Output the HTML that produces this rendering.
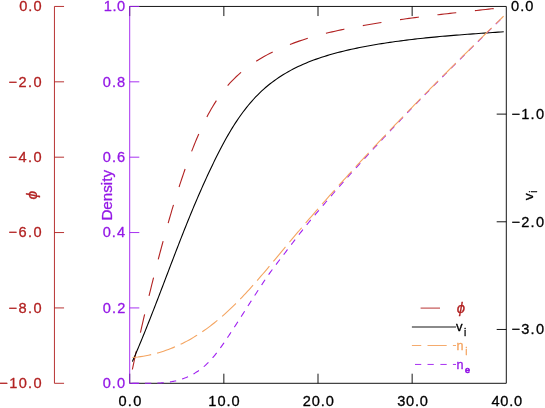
<!DOCTYPE html>
<html><head><meta charset="utf-8"><title>plot</title>
<style>html,body{margin:0;padding:0;background:#fff;overflow:hidden}body{width:545px;height:408px;font-family:"Liberation Sans",sans-serif}</style></head>
<body>
<svg width="545" height="408" viewBox="0 0 545 408" style="display:block;will-change:transform">
<rect width="545" height="408" fill="#fff"/>
<g fill="none" stroke-width="0.92" stroke-linecap="butt">
<path d="M129.7,6.45H506.3V383.3H129.7" stroke="#000"/>
<path d="M129.70,6.45v9.6M129.70,383.3v-9.6M223.85,6.45v9.6M223.85,383.3v-9.6M318.00,6.45v9.6M318.00,383.3v-9.6M412.15,6.45v9.6M412.15,383.3v-9.6" stroke="#000"/>
<path d="M506.3,114.12h-9.6M506.3,221.79h-9.6M506.3,329.46h-9.6" stroke="#000"/>
<path d="M139.29999999999998,6.45H129.7V383.3h9.6M129.7,81.82h9.6M129.7,157.19h9.6M129.7,232.56h9.6M129.7,307.93h9.6" stroke="#a020f0"/>
<path d="M64.05,6.45H54.45V383.3h9.6M54.45,81.82h9.6M54.45,157.19h9.6M54.45,232.56h9.6M54.45,307.93h9.6" stroke="#b22222"/>
<path stroke-width="1.1" d="M132.35,369.50L132.97,366.58L133.60,363.66L134.22,360.75L134.85,357.83L135.49,354.91L136.12,351.99L136.76,349.07L137.40,346.15L138.05,343.23L138.70,340.31L139.35,337.39L140.01,334.47L140.67,331.55L141.33,328.63L142.00,325.71L142.67,322.80L143.34,319.88L144.02,316.96L144.70,314.05L145.39,311.13L146.07,308.22L146.77,305.31L147.46,302.39L148.16,299.48L148.86,296.57L149.57,293.67L150.28,290.76L151.00,287.85L151.72,284.95L152.44,282.05L153.17,279.15L153.90,276.25L154.63,273.35L155.37,270.45L156.12,267.56L156.86,264.67L157.61,261.78L158.37,258.89L159.13,256.01L159.89,253.12L160.66,250.24L161.44,247.37L162.21,244.49L163.00,241.62L163.78,238.75L164.57,235.88L165.37,233.02L166.17,230.15L166.97,227.29L167.78,224.44L168.59,221.59L169.41,218.74L170.24,215.89L171.07,213.05L171.90,210.20L172.75,207.36L173.60,204.53L174.46,201.69L175.32,198.86L176.20,196.02L177.09,193.19L177.99,190.36L178.89,187.53L179.81,184.70L180.74,181.87L181.69,179.04L182.64,176.21L183.61,173.37L184.59,170.54L185.59,167.71L186.61,164.87L187.63,162.04L188.68,159.20L189.74,156.36L190.82,153.52L191.91,150.67L193.03,147.83L194.16,144.98L195.32,142.14L196.50,139.30L197.70,136.47L198.92,133.65L200.17,130.84L201.45,128.04L202.75,125.26L204.08,122.50L205.45,119.76L206.84,117.04L208.27,114.35L209.72,111.68L211.22,109.05L212.75,106.45L214.32,103.88L215.92,101.35L217.57,98.85L219.25,96.40L220.98,93.99L222.75,91.63L224.56,89.31L226.42,87.05L228.32,84.84L230.27,82.68L232.27,80.57L234.31,78.52L236.40,76.52L238.53,74.57L240.70,72.67L242.91,70.83L245.16,69.03L247.45,67.27L249.78,65.57L252.15,63.91L254.55,62.29L256.98,60.72L259.45,59.19L261.95,57.71L264.49,56.26L267.05,54.86L269.65,53.50L272.27,52.17L274.92,50.89L277.59,49.64L280.29,48.43L283.02,47.25L285.77,46.11L288.54,45.00L291.33,43.93L294.14,42.88L296.97,41.87L299.82,40.89L302.68,39.94L305.56,39.02L308.46,38.12L311.37,37.25L314.29,36.41L317.22,35.59L320.16,34.80L323.12,34.03L326.08,33.28L329.05,32.56L332.03,31.85L335.01,31.17L337.99,30.50L340.98,29.86L343.97,29.23L346.96,28.62L349.96,28.02L352.95,27.44L355.94,26.87L358.92,26.31L361.90,25.77L364.88,25.24L367.85,24.72L370.82,24.21L373.78,23.71L376.74,23.22L379.69,22.74L382.64,22.26L385.58,21.80L388.53,21.35L391.46,20.90L394.40,20.47L397.33,20.04L400.27,19.62L403.19,19.21L406.12,18.80L409.05,18.40L411.97,18.01L414.90,17.62L417.82,17.24L420.75,16.87L423.67,16.50L426.60,16.13L429.52,15.77L432.45,15.42L435.38,15.07L438.31,14.72L441.24,14.38L444.17,14.04L447.11,13.70L450.05,13.36L452.99,13.03L455.93,12.70L458.88,12.38L461.84,12.05L464.79,11.72L467.75,11.40L470.72,11.08L473.69,10.76L476.67,10.43L479.65,10.11L482.64,9.79L485.63,9.47L488.64,9.14L491.64,8.82L494.66,8.49L497.68,8.16L500.71,7.83L503.75,7.50" stroke="#b22222" stroke-dasharray="18.9 18.8"/>
<path stroke-width="1.1" d="M132.35,361.60L133.47,359.02L134.59,356.45L135.69,353.87L136.79,351.28L137.88,348.70L138.97,346.12L140.04,343.53L141.12,340.95L142.18,338.36L143.24,335.77L144.29,333.18L145.34,330.59L146.38,328.00L147.42,325.40L148.45,322.81L149.48,320.21L150.51,317.62L151.52,315.02L152.54,312.42L153.55,309.83L154.56,307.23L155.57,304.63L156.57,302.03L157.57,299.43L158.57,296.83L159.57,294.23L160.56,291.63L161.56,289.03L162.55,286.43L163.54,283.83L164.53,281.23L165.52,278.63L166.51,276.03L167.50,273.43L168.49,270.83L169.48,268.23L170.47,265.63L171.46,263.03L172.46,260.43L173.45,257.83L174.45,255.23L175.45,252.64L176.45,250.04L177.45,247.45L178.46,244.85L179.47,242.26L180.48,239.67L181.49,237.08L182.51,234.49L183.54,231.90L184.56,229.31L185.60,226.72L186.63,224.14L187.68,221.55L188.72,218.97L189.78,216.39L190.84,213.81L191.90,211.23L192.97,208.65L194.05,206.08L195.13,203.51L196.22,200.94L197.32,198.37L198.43,195.80L199.54,193.23L200.66,190.67L201.79,188.11L202.93,185.55L204.08,182.99L205.24,180.44L206.40,177.89L207.58,175.34L208.76,172.79L209.96,170.24L211.16,167.70L212.38,165.16L213.60,162.63L214.84,160.09L216.09,157.56L217.35,155.03L218.63,152.51L219.92,150.00L221.22,147.49L222.54,145.00L223.88,142.51L225.23,140.04L226.61,137.58L228.00,135.14L229.42,132.71L230.86,130.29L232.32,127.90L233.80,125.53L235.31,123.17L236.84,120.84L238.40,118.53L239.99,116.25L241.60,113.99L243.24,111.75L244.92,109.55L246.62,107.38L248.36,105.23L250.13,103.12L251.93,101.04L253.77,99.00L255.64,96.99L257.55,95.01L259.49,93.08L261.48,91.18L263.50,89.33L265.57,87.52L267.67,85.75L269.81,84.02L272.00,82.34L274.22,80.69L276.47,79.10L278.76,77.54L281.09,76.02L283.44,74.55L285.83,73.12L288.24,71.73L290.68,70.38L293.15,69.08L295.64,67.81L298.15,66.59L300.69,65.40L303.24,64.26L305.81,63.15L308.41,62.09L311.01,61.06L313.64,60.06L316.27,59.11L318.93,58.18L321.59,57.29L324.27,56.43L326.95,55.60L329.65,54.80L332.35,54.03L335.06,53.28L337.78,52.56L340.50,51.86L343.23,51.18L345.96,50.53L348.70,49.90L351.43,49.28L354.17,48.69L356.91,48.11L359.65,47.55L362.39,47.00L365.13,46.48L367.88,45.97L370.62,45.47L373.37,44.99L376.12,44.52L378.87,44.06L381.63,43.62L384.38,43.19L387.13,42.77L389.89,42.36L392.65,41.96L395.41,41.57L398.16,41.19L400.92,40.83L403.69,40.47L406.45,40.12L409.21,39.78L411.98,39.45L414.74,39.13L417.51,38.81L420.28,38.51L423.05,38.21L425.82,37.92L428.59,37.64L431.36,37.36L434.13,37.09L436.91,36.83L439.68,36.57L442.46,36.32L445.23,36.08L448.01,35.84L450.79,35.61L453.57,35.38L456.35,35.15L459.13,34.93L461.91,34.72L464.70,34.51L467.48,34.30L470.27,34.09L473.05,33.89L475.84,33.69L478.63,33.50L481.42,33.30L484.20,33.11L486.99,32.92L489.79,32.73L492.58,32.54L495.37,32.36L498.16,32.17L500.96,31.99L503.75,31.80" stroke="#000"/>
<path stroke-width="1.1" d="M132.35,383.40L133.24,383.38L134.12,383.36L135.01,383.35L135.89,383.34L136.78,383.33L137.67,383.32L138.55,383.31L139.44,383.31L140.32,383.31L141.21,383.31L142.10,383.30L142.98,383.30L143.87,383.30L144.75,383.30L145.64,383.30L146.53,383.30L147.41,383.30L148.30,383.29L149.18,383.29L150.07,383.28L150.96,383.27L151.84,383.26L152.73,383.24L153.61,383.22L154.50,383.20L155.39,383.18L156.27,383.15L157.16,383.11L158.05,383.07L158.93,383.03L159.82,382.98L160.70,382.93L161.59,382.87L162.48,382.80L163.36,382.73L164.25,382.65L165.13,382.56L166.02,382.47L166.91,382.37L167.79,382.26L168.68,382.14L169.56,382.01L170.45,381.87L171.34,381.73L172.22,381.57L173.11,381.40L173.99,381.23L174.88,381.04L175.77,380.84L176.65,380.62L177.54,380.40L178.42,380.16L179.31,379.91L180.20,379.64L181.08,379.36L181.97,379.07L182.85,378.76L183.74,378.44L184.63,378.11L185.51,377.76L186.40,377.40L187.28,377.02L188.17,376.62L189.06,376.21L189.94,375.79L190.83,375.35L191.71,374.89L192.60,374.41L193.49,373.92L194.37,373.41L195.26,372.88L196.14,372.33L197.03,371.76L197.92,371.17L198.80,370.56L199.69,369.92L200.57,369.27L201.46,368.58L202.35,367.88L203.23,367.15L204.12,366.39L205.01,365.61L205.89,364.80L206.78,363.97L207.66,363.11L208.55,362.23L209.44,361.32L210.32,360.38L211.21,359.41L212.09,358.42L212.98,357.40L213.87,356.36L214.75,355.29L215.64,354.20L216.52,353.08L217.41,351.93L218.30,350.77L219.18,349.58L220.07,348.37L220.95,347.14L221.84,345.89L222.73,344.62L223.61,343.34L224.50,342.04L225.38,340.74L226.27,339.42L227.16,338.10L228.04,336.77L228.93,335.43L229.81,334.09L230.70,332.75L231.59,331.40L232.47,330.05L233.36,328.69L234.24,327.33L235.13,325.96L236.02,324.60L236.90,323.23L237.79,321.85L238.67,320.48L239.56,319.10L240.45,317.72L241.33,316.34L242.22,314.96L243.10,313.58L243.99,312.20L244.88,310.81L245.76,309.43L246.65,308.04L247.53,306.66L248.42,305.28L249.31,303.90L250.19,302.52L251.08,301.14L251.97,299.77L252.85,298.39L253.74,297.02L254.62,295.65L255.51,294.29L256.40,292.93L257.28,291.57L258.17,290.22L259.05,288.87L259.94,287.52L260.83,286.18L261.71,284.84L262.60,283.47L263.48,282.09L264.37,280.74L265.26,279.41L266.14,278.11L267.03,276.83L267.91,275.58L268.80,274.35L269.69,273.14L270.57,271.92L271.46,270.71L272.34,269.50L273.23,268.30L274.12,267.11L275.00,265.92L275.89,264.75L276.77,263.58L277.66,262.41L278.55,261.25L279.43,260.09L280.32,258.94L281.20,257.79L282.09,256.65L282.98,255.50L283.86,254.36L284.75,253.22L285.63,252.05L286.52,250.88L287.41,249.70L288.29,248.53L289.18,247.36L290.06,246.19L290.95,245.03L291.84,243.87L292.72,242.71L293.61,241.56L294.49,240.40L295.38,239.25L296.27,238.10L297.15,236.95L298.04,235.80L298.93,234.66L299.81,233.51L300.70,232.39L301.58,231.29L302.47,230.18L303.36,229.07L304.24,227.97L305.13,226.87L306.01,225.77L306.90,224.67L307.79,223.57L308.67,222.47L309.56,221.38L310.44,220.30L311.33,219.24L312.22,218.19L313.10,217.13L313.99,216.08L314.87,215.03L315.76,213.98L316.65,212.93L317.53,211.88L318.42,210.83L319.30,209.78L320.19,208.74L321.08,207.70L321.96,206.65L322.85,205.61L323.73,204.57L324.62,203.53L325.51,202.50L326.39,201.46L327.28,200.42L328.16,199.39L329.05,198.36L329.94,197.33L330.82,196.30L331.71,195.28L332.59,194.26L333.48,193.25L334.37,192.23L335.25,191.21L336.14,190.20L337.02,189.18L337.91,188.17L338.80,187.16L339.68,186.15L340.57,185.14L341.46,184.14L342.34,183.14L343.23,182.14L344.11,181.13L345.00,180.14L345.89,179.14L346.77,178.14L347.66,177.14L348.54,176.15L349.43,175.15L350.32,174.16L351.20,173.18L352.09,172.20L352.97,171.21L353.86,170.23L354.75,169.25L355.63,168.27L356.52,167.30L357.40,166.32L358.29,165.34L359.18,164.37L360.06,163.39L360.95,162.42L361.83,161.45L362.72,160.48L363.61,159.51L364.49,158.54L365.38,157.57L366.26,156.60L367.15,155.64L368.04,154.67L368.92,153.71L369.81,152.74L370.69,151.78L371.58,150.82L372.47,149.86L373.35,148.90L374.24,147.94L375.12,146.99L376.01,146.03L376.90,145.08L377.78,144.12L378.67,143.17L379.55,142.22L380.44,141.27L381.33,140.32L382.21,139.37L383.10,138.42L383.98,137.47L384.87,136.53L385.76,135.58L386.64,134.63L387.53,133.69L388.42,132.75L389.30,131.80L390.19,130.86L391.07,129.92L391.96,128.98L392.85,128.05L393.73,127.11L394.62,126.17L395.50,125.24L396.39,124.30L397.28,123.37L398.16,122.43L399.05,121.50L399.93,120.57L400.82,119.64L401.71,118.71L402.59,117.78L403.48,116.85L404.36,115.92L405.25,114.99L406.14,114.06L407.02,113.14L407.91,112.21L408.79,111.29L409.68,110.36L410.57,109.45L411.45,108.53L412.34,107.62L413.22,106.70L414.11,105.79L415.00,104.88L415.88,103.96L416.77,103.05L417.65,102.14L418.54,101.23L419.43,100.32L420.31,99.41L421.20,98.51L422.08,97.60L422.97,96.69L423.86,95.79L424.74,94.88L425.63,93.98L426.51,93.07L427.40,92.17L428.29,91.27L429.17,90.36L430.06,89.46L430.94,88.56L431.83,87.66L432.72,86.76L433.60,85.86L434.49,84.96L435.38,84.06L436.26,83.17L437.15,82.27L438.03,81.37L438.92,80.48L439.81,79.58L440.69,78.69L441.58,77.79L442.46,76.90L443.35,76.01L444.24,75.12L445.12,74.23L446.01,73.33L446.89,72.44L447.78,71.55L448.67,70.67L449.55,69.78L450.44,68.89L451.32,68.00L452.21,67.11L453.10,66.23L453.98,65.34L454.87,64.46L455.75,63.57L456.64,62.69L457.53,61.80L458.41,60.92L459.30,60.04L460.18,59.15L461.07,58.27L461.96,57.39L462.84,56.51L463.73,55.63L464.61,54.75L465.50,53.87L466.39,52.99L467.27,52.11L468.16,51.23L469.04,50.35L469.93,49.48L470.82,48.60L471.70,47.73L472.59,46.85L473.47,45.98L474.36,45.11L475.25,44.23L476.13,43.36L477.02,42.49L477.90,41.62L478.79,40.75L479.68,39.87L480.56,39.00L481.45,38.13L482.34,37.26L483.22,36.40L484.11,35.53L484.99,34.66L485.88,33.79L486.77,32.92L487.65,32.05L488.54,31.19L489.42,30.32L490.31,29.45L491.20,28.59L492.08,27.72L492.97,26.86L493.85,25.99L494.74,25.13L495.63,24.26L496.51,23.40L497.40,22.54L498.28,21.67L499.17,20.81L500.06,19.95L500.94,19.09L501.83,18.22L502.71,17.36L503.60,16.50" stroke="#a020f0" stroke-dasharray="6.4 6.14"/>
<path stroke-width="1.1" d="M132.50,357.50L135.23,357.24L137.93,356.94L140.61,356.58L143.26,356.17L145.89,355.71L148.49,355.20L151.06,354.64L153.61,354.04L156.14,353.39L158.65,352.70L161.13,351.96L163.58,351.18L166.01,350.35L168.42,349.48L170.81,348.57L173.18,347.62L175.52,346.63L177.84,345.60L180.14,344.54L182.41,343.43L184.67,342.29L186.91,341.12L189.12,339.91L191.31,338.67L193.49,337.39L195.64,336.08L197.78,334.74L199.89,333.37L201.99,331.97L204.07,330.54L206.13,329.08L208.17,327.59L210.19,326.08L212.20,324.54L214.18,322.98L216.15,321.40L218.11,319.79L220.05,318.16L221.97,316.50L223.87,314.83L225.76,313.13L227.64,311.42L229.50,309.69L231.35,307.93L233.18,306.17L235.01,304.38L236.82,302.58L238.61,300.76L240.40,298.92L242.18,297.07L243.94,295.21L245.70,293.34L247.44,291.45L249.18,289.55L250.91,287.64L252.63,285.72L254.35,283.79L256.05,281.84L257.75,279.90L259.45,277.94L261.14,275.97L262.82,274.00L264.50,272.03L266.18,270.04L267.85,268.06L269.52,266.07L271.18,264.07L272.84,262.08L274.51,260.08L276.17,258.08L277.83,256.08L279.49,254.08L281.15,252.08L282.81,250.08L284.47,248.08L286.13,246.09L287.80,244.10L289.46,242.11L291.13,240.13L292.80,238.15L294.48,236.17L296.15,234.19L297.83,232.22L299.51,230.25L301.19,228.28L302.87,226.31L304.55,224.35L306.24,222.39L307.92,220.43L309.61,218.48L311.30,216.53L313.00,214.58L314.69,212.63L316.39,210.69L318.09,208.75L319.79,206.81L321.49,204.87L323.19,202.94L324.90,201.00L326.60,199.08L328.31,197.15L330.02,195.22L331.74,193.30L333.45,191.38L335.17,189.47L336.89,187.55L338.60,185.64L340.33,183.73L342.05,181.82L343.77,179.91L345.50,178.01L347.23,176.11L348.96,174.21L350.69,172.31L352.42,170.41L354.16,168.52L355.89,166.63L357.63,164.74L359.37,162.85L361.11,160.97L362.86,159.08L364.60,157.20L366.35,155.32L368.10,153.44L369.85,151.57L371.60,149.69L373.35,147.82L375.11,145.95L376.86,144.08L378.62,142.21L380.38,140.35L382.14,138.48L383.91,136.62L385.67,134.76L387.44,132.90L389.21,131.04L390.98,129.19L392.75,127.33L394.52,125.48L396.29,123.63L398.07,121.78L399.85,119.93L401.63,118.08L403.41,116.24L405.19,114.39L406.97,112.55L408.76,110.71L410.54,108.87L412.33,107.03L414.12,105.19L415.91,103.36L417.71,101.52L419.50,99.69L421.30,97.86L423.09,96.02L424.89,94.19L426.69,92.36L428.50,90.53L430.30,88.71L432.10,86.88L433.91,85.06L435.72,83.23L437.53,81.41L439.34,79.58L441.15,77.76L442.96,75.94L444.78,74.12L446.60,72.30L448.41,70.49L450.23,68.67L452.05,66.85L453.88,65.04L455.70,63.22L457.53,61.41L459.35,59.59L461.18,57.78L463.01,55.97L464.84,54.15L466.67,52.34L468.51,50.53L470.34,48.72L472.18,46.91L474.01,45.10L475.85,43.29L477.69,41.48L479.54,39.68L481.38,37.87L483.22,36.06L485.07,34.26L486.92,32.45L488.77,30.64L490.62,28.84L492.47,27.03L494.32,25.23L496.17,23.42L498.03,21.61L499.88,19.81L501.74,18.00L503.60,16.20" stroke="#f4a460" stroke-dasharray="18.9 6.18"/>
<path d="M420.6,308.1H440" stroke="#b22222"/>
<path d="M411.9,327.0H456" stroke="#000"/>
<path d="M411.9,345.5H421.25M427.5,345.5H446.7M452.9,345.5H456" stroke="#f4a460"/>
<path d="M415,364.45H421.25M427.5,364.45H433.75M440.4,364.45H446.7M452.9,364.45H456" stroke="#a020f0"/>
</g>
<g font-family="Liberation Sans, sans-serif" font-size="14.6" stroke-width="0.3" stroke-linejoin="round">
<text x="19.23" y="11.30" fill="#b22222" stroke="#b22222" letter-spacing="1.02">0.0</text>
<text x="8.38" y="86.67" fill="#b22222" stroke="#b22222" letter-spacing="1.49">−2.0</text>
<text x="8.38" y="162.04" fill="#b22222" stroke="#b22222" letter-spacing="1.49">−4.0</text>
<text x="8.38" y="237.41" fill="#b22222" stroke="#b22222" letter-spacing="1.49">−6.0</text>
<text x="8.38" y="312.78" fill="#b22222" stroke="#b22222" letter-spacing="1.49">−8.0</text>
<text x="-0.72" y="388.15" fill="#b22222" stroke="#b22222" letter-spacing="1.36">−10.0</text>
<text x="103.79" y="11.30" fill="#9418e6" stroke="#9418e6" letter-spacing="0.54">1.0</text>
<text x="102.63" y="86.67" fill="#9418e6" stroke="#9418e6" letter-spacing="1.15">0.8</text>
<text x="102.63" y="162.04" fill="#9418e6" stroke="#9418e6" letter-spacing="1.16">0.6</text>
<text x="102.63" y="237.41" fill="#9418e6" stroke="#9418e6" letter-spacing="1.05">0.4</text>
<text x="102.63" y="312.78" fill="#9418e6" stroke="#9418e6" letter-spacing="1.20">0.2</text>
<text x="102.63" y="388.15" fill="#9418e6" stroke="#9418e6" letter-spacing="1.12">0.0</text>
<text x="511.03" y="11.30" fill="#000" stroke="#000" letter-spacing="1.02">0.0</text>
<text x="511.38" y="118.97" fill="#000" stroke="#000" letter-spacing="1.29">−1.0</text>
<text x="511.38" y="226.64" fill="#000" stroke="#000" letter-spacing="1.29">−2.0</text>
<text x="511.38" y="334.31" fill="#000" stroke="#000" letter-spacing="1.29">−3.0</text>
<text x="118.53" y="406.40" fill="#000" stroke="#000" letter-spacing="1.22">0.0</text>
<text x="208.34" y="406.40" fill="#000" stroke="#000" letter-spacing="0.96">10.0</text>
<text x="302.87" y="406.40" fill="#000" stroke="#000" letter-spacing="0.83">20.0</text>
<text x="397.19" y="406.40" fill="#000" stroke="#000" letter-spacing="0.77">30.0</text>
<text x="491.56" y="406.40" fill="#000" stroke="#000" letter-spacing="0.70">40.0</text>
<text transform="translate(111.8,220.6) rotate(-90)" fill="#9418e6" stroke="#9418e6" textLength="50.6" lengthAdjust="spacingAndGlyphs">Density</text>
<text transform="translate(37.2,199.5) rotate(-90) scale(1.04,0.93)" fill="#b22222" stroke="#b22222" font-style="italic" font-size="15">ϕ</text>
<text transform="translate(532.7,200.2) rotate(-90)" fill="#000" stroke="#000" font-size="12.6" textLength="7" lengthAdjust="spacingAndGlyphs">v</text>
<text transform="translate(537,192.8) rotate(-90)" fill="#000" stroke="#000" font-size="10">i</text>
<text x="456.7" y="313" fill="#b22222" stroke="#b22222" font-style="italic" font-size="15">ϕ</text>
<text x="456" y="330.7" fill="#000" stroke="#000" font-size="12.8" textLength="6.6" lengthAdjust="spacingAndGlyphs">v</text>
<text x="464" y="335.7" fill="#000" stroke="#000" font-size="10">i</text>
<text x="456.4" y="350" fill="#f4a460" stroke="#f4a460" font-size="12.8" textLength="7" lengthAdjust="spacingAndGlyphs">n</text>
<text x="465.2" y="354.8" fill="#f4a460" stroke="#f4a460" font-size="10">i</text>
<text x="456.4" y="368.9" fill="#9418e6" stroke="#9418e6" font-size="12.8" textLength="7" lengthAdjust="spacingAndGlyphs">n</text>
<text x="465" y="373.3" fill="#9418e6" stroke="#9418e6" stroke-width="0.7" font-size="9">e</text>
</g>
</svg>
</body></html>
